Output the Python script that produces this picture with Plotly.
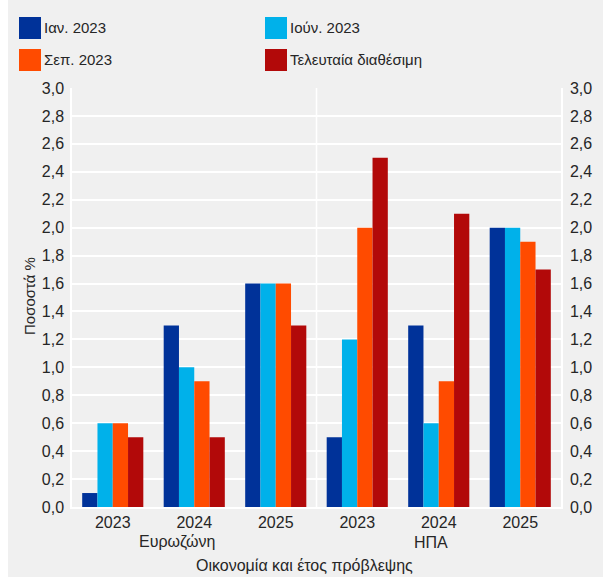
import plotly.graph_objects as go

economies = ["Ευρωζώνη", "Ευρωζώνη", "Ευρωζώνη", "ΗΠΑ", "ΗΠΑ", "ΗΠΑ"]
years = ["2023", "2024", "2025", "2023", "2024", "2025"]
economy_labels = ["Ευρωζώνη", "ΗΠΑ"]

series_names = ["Ιαν. 2023", "Ιούν. 2023", "Σεπ. 2023", "Τελευταία διαθέσιμη"]
jan_2023 = [0.1, 1.3, 1.6, 0.5, 1.3, 2.0]
jun_2023 = [0.6, 1.0, 1.6, 1.2, 0.6, 2.0]
sep_2023 = [0.6, 0.9, 1.6, 2.0, 0.9, 1.9]
latest = [0.5, 0.5, 1.3, 2.5, 2.1, 1.7]
series_values = [jan_2023, jun_2023, sep_2023, latest]
colors = ["#003299", "#00b1ea", "#ff4b00", "#b20909"]

y_ticks = [0.0, 0.2, 0.4, 0.6, 0.8, 1.0, 1.2, 1.4, 1.6, 1.8, 2.0, 2.2, 2.4, 2.6, 2.8, 3.0]

categories = [f"{e} {y}" for e, y in zip(economies, years)]

OFFX = 8  # page left margin kept white
W, H = 595, 577
L, R, T, B = 64, 42, 88, 70
PW, PH = W - L - R, H - T - B

def px(x):
    return (x - OFFX - L) / PW

def py(y):
    return (H - B - y) / PH

FONT = "Liberation Sans, Arial, sans-serif"
TXT = "#262626"

fig = go.Figure()
for name, vals, col in zip(series_names, series_values, colors):
    fig.add_trace(go.Bar(x=categories, y=vals, name=name,
                         marker=dict(color=col, line=dict(width=0)),
                         showlegend=False))
fig.add_trace(go.Scatter(x=categories, y=jan_2023, yaxis="y2",
                         mode="markers", marker=dict(opacity=0),
                         showlegend=False, hoverinfo="skip"))

shapes = [
    dict(type="line", xref="paper", yref="paper", x0=0.5, x1=0.5, y0=0, y1=1,
         line=dict(color="white", width=1.5), layer="below"),
]
annotations = []
legend_pos = [(19, 17), (265, 17), (19, 49), (265, 49)]
for (lx, ly), name, col in zip(legend_pos, series_names, colors):
    shapes.append(dict(type="rect", xref="paper", yref="paper",
                       x0=px(lx), x1=px(lx + 22), y0=py(ly + 22), y1=py(ly),
                       fillcolor=col, line=dict(width=0)))
    annotations.append(dict(xref="paper", yref="paper", x=px(lx + 23), y=py(ly + 11),
                            text=name, showarrow=False, xanchor="left", yanchor="middle",
                            font=dict(size=15, color=TXT, family=FONT)))
# economy group labels under the middle year of each group
for lab, shift in zip(economy_labels, [-17, -8]):
    mid = [c for c, e in zip(categories, economies) if e == lab][1]
    annotations.append(dict(xref="x", yref="paper", x=mid, y=py(542), xshift=shift,
                            text=lab, showarrow=False, xanchor="center", yanchor="middle",
                            font=dict(size=16, color=TXT, family=FONT)))
annotations.append(dict(xref="paper", yref="paper", x=px(304), y=py(565),
                        text="Οικονομία και έτος πρόβλεψης", showarrow=False,
                        xanchor="center", yanchor="middle",
                        font=dict(size=16, color=TXT, family=FONT)))
annotations.append(dict(xref="paper", yref="paper", x=px(29), y=py(296),
                        text="Ποσοστά %", showarrow=False, textangle=-90,
                        xanchor="center", yanchor="middle",
                        font=dict(size=15, color=TXT, family=FONT)))

fig.update_layout(
    width=W, height=H,
    margin=dict(l=L, r=R, t=T, b=B, pad=0),
    paper_bgcolor="#f0f0f0", plot_bgcolor="#f0f0f0",
    barmode="group", bargap=0.25, bargroupgap=0,
    separators=", ",
    font=dict(family=FONT, size=16, color=TXT),
    xaxis=dict(type="category", tickvals=categories, ticktext=years,
               showgrid=False, showline=True,
               linecolor="white", linewidth=1.5,
               ticks="", ticklabelstandoff=0, tickfont=dict(size=16, color=TXT)),
    yaxis=dict(range=[0, 3.0], tickvals=y_ticks, tickformat=".1f",
               showgrid=True, gridcolor="white", gridwidth=1.5,
               showline=True, linecolor="white", linewidth=1.5,
               zeroline=False, ticks="", ticklabelstandoff=3,
               tickfont=dict(size=16, color=TXT)),
    yaxis2=dict(range=[0, 3.0], tickvals=y_ticks, tickformat=".1f",
                overlaying="y", side="right", showgrid=False,
                showline=True, linecolor="white", linewidth=1.5,
                zeroline=False, ticks="", ticklabelstandoff=4,
                tickfont=dict(size=16, color=TXT)),
    shapes=shapes, annotations=annotations,
)

fig.write_html("out.html",
               post_script="document.body.style.margin='0 0 0 8px';"
                           "document.body.style.overflow='hidden';")
